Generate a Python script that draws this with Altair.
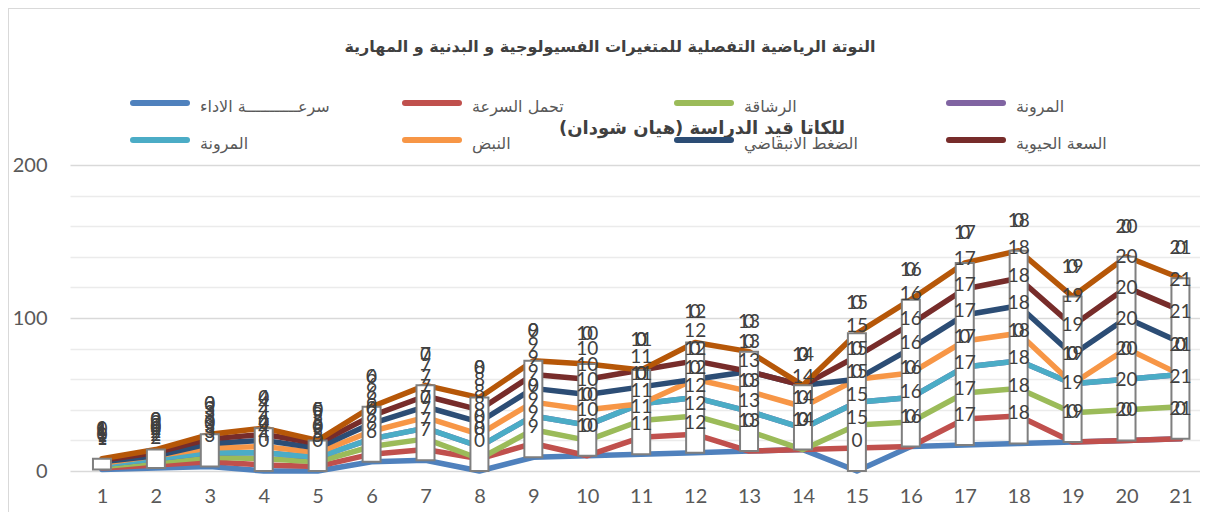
import altair as alt
import pandas as pd

# ---------------- data ----------------
categories = list(range(1, 22))

series_names = [
    "سرعـــــــــــة الاداء",
    "تحمل السرعة",
    "الرشاقة",
    "المرونة",
    "المرونة ",
    "النبض",
    "الضغط الانبقاضي",
    "السعة الحيوية",
    "المجموع",
    "اخرى",
]
series_colors = ["#4F81BD", "#C0504D", "#9BBB59", "#8064A2", "#4BACC6",
                 "#F79646", "#2C4D75", "#772C2A", "#B65708", "#B65708"]
legend_names = series_names[:8]
legend_colors = series_colors[:8]

speed      = [1, 2, 3, 0, 0, 6, 7, 0, 9, 10, 11, 12, 13, 14, 0, 16, 17, 18, 19, 20, 21]
endurance  = [1, 2, 3, 4, 3, 5, 7, 8, 9, 0, 11, 12, 0, 0, 15, 0, 17, 18, 0, 0, 0]
agility    = [1, 2, 3, 4, 3, 5, 7, 0, 9, 10, 11, 12, 13, 0, 15, 16, 17, 18, 19, 20, 21]
flex_a     = [1, 2, 3, 4, 3, 5, 7, 8, 9, 10, 11, 12, 13, 14, 15, 16, 17, 18, 19, 20, 21]
flex_b     = [0, 0, 0, 0, 0, 0, 0, 0, 0, 0, 0, 0, 0, 0, 0, 0, 0, 0, 0, 0, 0]
pulse      = [1, 2, 3, 4, 3, 5, 7, 8, 9, 10, 0, 12, 13, 14, 15, 16, 17, 18, 0, 20, 0]
pressure   = [1, 0, 3, 4, 3, 5, 7, 8, 9, 10, 11, 0, 13, 14, 0, 16, 17, 18, 19, 20, 21]
vital      = [1, 2, 3, 4, 3, 5, 7, 8, 9, 10, 11, 12, 0, 0, 15, 16, 17, 18, 19, 20, 21]
total_line = [1, 2, 3, 4, 2, 6, 7, 8, 9, 10, 0, 12, 13, 0, 15, 16, 17, 18, 19, 20, 21]
extra      = [0, 0, 0, 0, 0, 0, 0, 0, 0, 0, 0, 0, 0, 0, 0, 0, 0, 0, 0, 0, 0]

all_series = [speed, endurance, agility, flex_a, flex_b, pulse, pressure,
              vital, total_line, extra]

title_text = "النوتة الرياضية  التفصلية للمتغيرات الفسيولوجية و البدنية و المهارية"
overlay_text = "\u200fللكاتا قيد الدراسة (هيان شودان)\u200f"

# ---------------- table ----------------
rows = []
for si, (name, vals) in enumerate(zip(series_names, all_series)):
    for c, v in zip(categories, vals):
        rows.append({"x": c, "series": name, "order": si, "value": v,
                     "label": str(c) if v > 0 else "0"})
df = pd.DataFrame(rows).sort_values(["order", "x"])
df["cum"] = df.groupby("x")["value"].cumsum()

box_df = pd.DataFrame({
    "x": categories,
    "lo": speed,
    "hi": [sum(s[i] for s in all_series) for i in range(len(categories))],
})

# legend layout table (pixel positions relative to the plot origin)
LEG_X0, LEG_Y0, LEG_DX, LEG_DY = 60, -62, 272, 37
leg_df = pd.DataFrame({
    "name": legend_names,
    "color": legend_colors,
    "col": [i % 4 for i in range(len(legend_names))],
    "row": [i // 4 for i in range(len(legend_names))],
})
leg_df["sx1"] = LEG_X0 + 3 + leg_df["col"] * LEG_DX
leg_df["sx2"] = leg_df["sx1"] + 54
leg_df["tx"] = leg_df["sx1"] + 67
leg_df["sy"] = LEG_Y0 + leg_df["row"] * LEG_DY

# ---------------- encodings ----------------
W, H = 1130, 306
xenc = alt.X("x:Q",
             scale=alt.Scale(domain=[0.5, 21.27], nice=False, zero=False),
             axis=alt.Axis(values=categories, grid=False, domain=False, ticks=False,
                           labelFont="Lato", labelFontSize=20, labelColor="#595959",
                           labelPadding=15, title=None, format="d", labelOverlap=False))
yscale = alt.Scale(domain=[0, 200], nice=False, zero=True)
yaxis = alt.Axis(values=list(range(0, 201, 20)),
                 labelExpr="datum.value % 100 === 0 ? datum.label : ''",
                 gridColor={"condition": {"test": "datum.value % 100 === 0",
                                          "value": "#d9d9d9"},
                            "value": "#ebebeb"},
                 gridWidth=1.6, domain=False, ticks=False, labelFont="Lato",
                 labelFontSize=20, labelColor="#595959", labelPadding=23,
                 title=None, labelOverlap=False)

color_enc = alt.Color(
    "series:N",
    scale=alt.Scale(domain=series_names[:9], range=series_colors[:9]),
    legend=None,
)

layers = []
for si, name in enumerate(series_names[:9]):
    layers.append(
        alt.Chart(df[df["series"] == name]).mark_line(
            strokeWidth=5.5, strokeCap="round", strokeJoin="round"
        ).encode(x=xenc, y=alt.Y("cum:Q", scale=yscale, axis=yaxis), color=color_enc)
    )

boxes = alt.Chart(box_df).mark_bar(size=18, color="white", stroke="#7f7f7f",
                                   strokeWidth=2).encode(
    x=xenc, y=alt.Y("lo:Q", scale=yscale, axis=yaxis), y2="hi:Q")

labels = alt.Chart(df).mark_text(font="Lato", fontSize=19, color="#404040",
                                 dy=-30, baseline="middle").encode(
    x=xenc, y=alt.Y("cum:Q", scale=yscale, axis=yaxis), text="label:N")

title = alt.Chart(pd.DataFrame({"t": [title_text]})).mark_text(
    font="DejaVu Sans", fontSize=16, fontWeight="bold", color="#404040",
    align="center", baseline="middle").encode(
    text="t:N", x=alt.value(540), y=alt.value(-118))

overlay = alt.Chart(pd.DataFrame({"t": [overlay_text]})).mark_text(
    font="DejaVu Sans", fontSize=18, fontWeight="bold", color="#404040",
    align="right", baseline="middle").encode(
    text="t:N", x=alt.value(775), y=alt.value(-36))

border_left = alt.Chart(pd.DataFrame({"a": [0]})).mark_rule(
    color="#d9d9d9", strokeWidth=1).encode(
    x=alt.value(-61.5), y=alt.value(-157), y2=alt.value(355))
border_top = alt.Chart(pd.DataFrame({"a": [0]})).mark_rule(
    color="#d9d9d9", strokeWidth=1).encode(
    x=alt.value(-62), x2=alt.value(W + 10), y=alt.value(-156.5))

main = alt.layer(border_left, border_top, *layers, boxes, labels, overlay, title)

leg_sym = alt.Chart(leg_df).mark_rule(strokeWidth=6, strokeCap="round").encode(
    x=alt.X("sx1:Q", scale=None, axis=None),
    x2="sx2:Q",
    y=alt.Y("sy:Q", scale=None, axis=None),
    color=alt.Color("color:N", scale=None, legend=None),
)
leg_txt = alt.Chart(leg_df).mark_text(
    font="DejaVu Sans", fontSize=16, color="#595959", align="left",
    baseline="middle", dy=4).encode(
    x=alt.X("tx:Q", scale=None, axis=None),
    y=alt.Y("sy:Q", scale=None, axis=None),
    text="name:N",
)
legend = alt.layer(leg_sym, leg_txt)

chart = alt.layer(main, legend).resolve_scale(
    x="independent", y="independent", color="independent"
).properties(
    width=W, height=H,
    autosize=alt.AutoSizeParams(type="none"),
    padding={"left": 62, "top": 157, "right": 0, "bottom": 41},
).configure_view(stroke=None)

chart.save("out.html", embed_options={"renderer": "svg", "actions": False})
